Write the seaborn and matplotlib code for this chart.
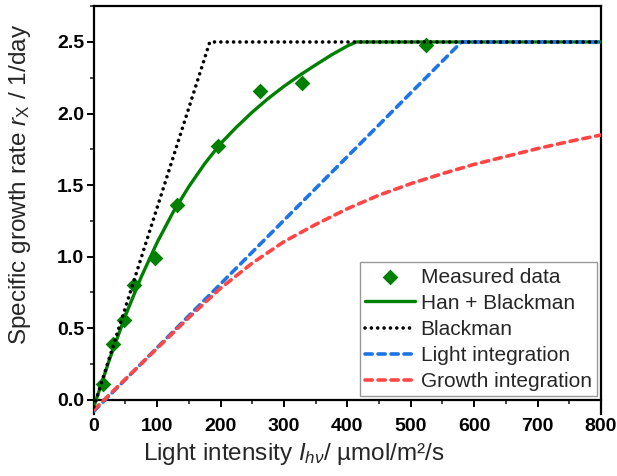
import numpy as np
import pandas as pd
import seaborn as sns
import matplotlib.pyplot as plt
from matplotlib.ticker import MultipleLocator

# measured points
meas_x = [15, 30, 48, 64, 97, 131, 196, 262, 328, 524]
meas_y = [0.11, 0.39, 0.56, 0.80, 0.99, 1.36, 1.77, 2.16, 2.21, 2.48]

# Han + Blackman model curve
han_x = [0, 25, 50, 75, 100, 125, 150, 175, 200, 225, 250, 275, 300, 325, 350, 375, 400, 414, 800]
han_y = [-0.05, 0.285, 0.59, 0.86, 1.10, 1.31, 1.49, 1.65, 1.79, 1.905, 2.01, 2.105, 2.19,
         2.268, 2.34, 2.41, 2.472, 2.50, 2.50]

# Blackman
black_x = [0, 183, 800]
black_y = [-0.05, 2.50, 2.50]

# light integration
light_x = [0, 580, 800]
light_y = [-0.08, 2.50, 2.50]

# growth integration
growth_x = [0, 50, 100, 150, 200, 250, 300, 350, 400, 450, 500, 550, 600, 650, 700, 750, 800]
growth_y = [-0.07, 0.145, 0.36, 0.575, 0.78, 0.955, 1.105, 1.225, 1.335, 1.43, 1.51, 1.58,
            1.645, 1.70, 1.755, 1.805, 1.85]

sns.set_style('ticks')
plt.rcParams['font.family'] = ['Liberation Sans', 'DejaVu Sans']
plt.rcParams['mathtext.fontset'] = 'custom'
plt.rcParams['mathtext.rm'] = 'Liberation Sans'
plt.rcParams['mathtext.it'] = 'Liberation Sans:italic'

fig = plt.figure(figsize=(6.17, 4.76), dpi=100)
ax = fig.add_axes([0.152, 0.130, 0.822, 0.857])

green = '#008000'
blue = '#1c74e6'
red = '#ff4545'

sns.scatterplot(x=meas_x, y=meas_y, marker='D', s=64, color=green, edgecolor=green,
                linewidth=0, ax=ax, zorder=2, label='Measured data')
sns.lineplot(x=han_x, y=han_y, sort=False, estimator=None, color=green, lw=2.4,
             ax=ax, zorder=3, label='Han + Blackman')
ax.plot(black_x, black_y, color='black', lw=2.6, dashes=(0.01, 1.75),
        dash_capstyle='round', zorder=6, label='Blackman')
ax.plot(light_x, light_y, color=blue, lw=2.6, dashes=(2.0, 1.6),
        dash_capstyle='round', zorder=4, label='Light integration')
ax.plot(growth_x, growth_y, color=red, lw=2.6, dashes=(2.0, 1.6),
        dash_capstyle='round', zorder=5, label='Growth integration')

ax.set_xlim(0, 800)
ax.set_ylim(-0.1, 2.75)
ax.xaxis.set_major_locator(MultipleLocator(100))
ax.xaxis.set_minor_locator(MultipleLocator(50))
ax.yaxis.set_minor_locator(MultipleLocator(0.25))
ax.set_yticks(np.arange(0, 2.51, 0.5))
ax.set_yticklabels(['0.0', '0.5', '1.0', '1.5', '2.0', '2.5'])

ax.spines['bottom'].set_position(('data', 0))
for sp in ax.spines.values():
    sp.set_linewidth(1.6)
    sp.set_color('black')
ax.tick_params(axis='both', which='major', direction='out', length=5, width=1.4,
               labelsize=14, pad=2, colors='black')
ax.tick_params(axis='both', which='minor', direction='out', length=3, width=1.2)
ax.tick_params(axis='x', which='major', pad=8)
for t in ax.get_xticklabels() + ax.get_yticklabels():
    t.set_fontweight('bold')

ax.set_xlabel(r'Light intensity $I_{h\nu}$/ µmol/m²/s', fontsize=17.5)
ax.set_ylabel(r'Specific growth rate $r_{\mathrm{X}}$ / 1/day', fontsize=17.5)
ax.xaxis.set_label_coords(0.394, -0.065)
ax.yaxis.set_label_coords(-0.12, 0.564)

ax.legend(loc='lower right', bbox_to_anchor=(0.992, 0.044), borderaxespad=0,
          fontsize=15, frameon=True, fancybox=False, edgecolor='#999999',
          handlelength=2.4, handletextpad=0.25, labelspacing=0.34, borderpad=0.25,
          framealpha=1)
ax.get_legend().get_frame().set_linewidth(1.0)

plt.savefig('out.png', dpi=100)
